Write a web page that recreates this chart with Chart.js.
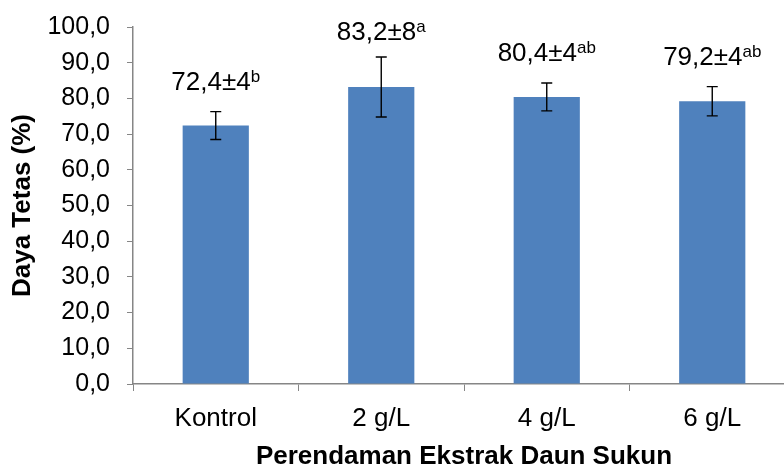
<!DOCTYPE html>
<html>
<head>
<meta charset="utf-8">
<script src="https://cdn.jsdelivr.net/npm/chart.js@4.4.0/dist/chart.umd.min.js"></script>
<style>
  html, body { margin: 0; padding: 0; background: #fff; overflow: hidden; }
  #wrap { width: 800px; height: 466px; }
</style>
</head>
<body>
<div id="wrap">
  <canvas id="chart" width="800" height="466" style="width:800px;height:466px;display:block"></canvas>
</div>
<script>
// categories and values
const categories = ['Kontrol', '2 g/L', '4 g/L', '6 g/L'];
const hatchRate = [72.4, 83.2, 80.4, 79.2];
const errors = [3.9, 8.4, 3.9, 4.1];
const labelMain = ['72,4±4', '83,2±8', '80,4±4', '79,2±4'];
const labelSup = ['b', 'a', 'ab', 'ab'];

const axisGray = '#868686';
const font = 'Liberation Sans, Arial, sans-serif';

// draw error bars and the mean±sd labels above each bar
const errorBarPlugin = {
    id: 'errorBars',
    afterDatasetsDraw(chart) {
        const ctx = chart.ctx;
        const y = chart.scales.y;
        const meta = chart.getDatasetMeta(0);
        ctx.save();
        meta.data.forEach((bar, i) => {
            const x = bar.x;
            const top = y.getPixelForValue(hatchRate[i] + errors[i]);
            const bottom = y.getPixelForValue(hatchRate[i] - errors[i]);
            ctx.strokeStyle = '#000';
            ctx.lineWidth = 1.4;
            ctx.beginPath();
            ctx.moveTo(x, top); ctx.lineTo(x, bottom);
            ctx.moveTo(x - 5.5, top); ctx.lineTo(x + 5.5, top);
            ctx.moveTo(x - 5.5, bottom); ctx.lineTo(x + 5.5, bottom);
            ctx.stroke();

            // label, kept inside the top of the plot
            ctx.fillStyle = '#000';
            ctx.textBaseline = 'alphabetic';
            ctx.font = '26px ' + font;
            const w1 = ctx.measureText(labelMain[i]).width;
            ctx.font = '17px ' + font;
            const w2 = ctx.measureText(labelSup[i]).width;
            const start = x - (w1 + w2) / 2;
            const ly = Math.max(top - 22, chart.chartArea.top + 13);
            ctx.font = '26px ' + font;
            ctx.textAlign = 'left';
            ctx.fillText(labelMain[i], start, ly);
            ctx.font = '17px ' + font;
            ctx.fillText(labelSup[i], start + w1, ly - 8);
        });
        ctx.restore();
    }
};

new Chart(document.getElementById('chart'), {
    type: 'bar',
    data: {
        labels: categories,
        datasets: [{
            data: hatchRate,
            backgroundColor: '#4F81BD',
            borderWidth: 0,
            categoryPercentage: 1.0,
            barPercentage: 0.4
        }]
    },
    options: {
        responsive: false,
        animation: false,
        devicePixelRatio: 1,
        layout: { padding: { top: 27, right: 5, left: 0, bottom: 0 } },
        plugins: {
            legend: { display: false },
            tooltip: { enabled: false }
        },
        scales: {
            x: {
                afterFit: s => { s.height = 82; },
                grid: { drawOnChartArea: false, drawTicks: true, tickLength: 7, color: axisGray, offset: true },
                border: { color: axisGray, width: 1.5 },
                ticks: { color: '#000', font: { family: font, size: 26 }, padding: 12 },
                title: {
                    display: true,
                    text: 'Perendaman Ekstrak Daun Sukun',
                    color: '#000',
                    font: { family: font, size: 26, weight: 'bold' },
                    padding: { top: 0, bottom: -6 }
                }
            },
            y: {
                min: 0,
                max: 100,
                // fixed width, and no extra room above/below for the tick labels
                afterFit: s => { s.width = 133; s.paddingTop = 0; s.paddingBottom = 0; },
                ticks: {
                    stepSize: 10,
                    color: '#000',
                    font: { family: font, size: 25 },
                    padding: 17,
                    callback: v => v.toFixed(1).replace('.', ',')
                },
                grid: { drawOnChartArea: false, drawTicks: true, tickLength: 6, color: axisGray },
                border: { color: axisGray, width: 1.5 },
                title: {
                    display: true,
                    text: 'Daya Tetas (%)',
                    color: '#000',
                    font: { family: font, size: 26, weight: 'bold' },
                    padding: { top: 7, bottom: 0 }
                }
            }
        }
    },
    plugins: [errorBarPlugin]
});
</script>
</body>
</html>
